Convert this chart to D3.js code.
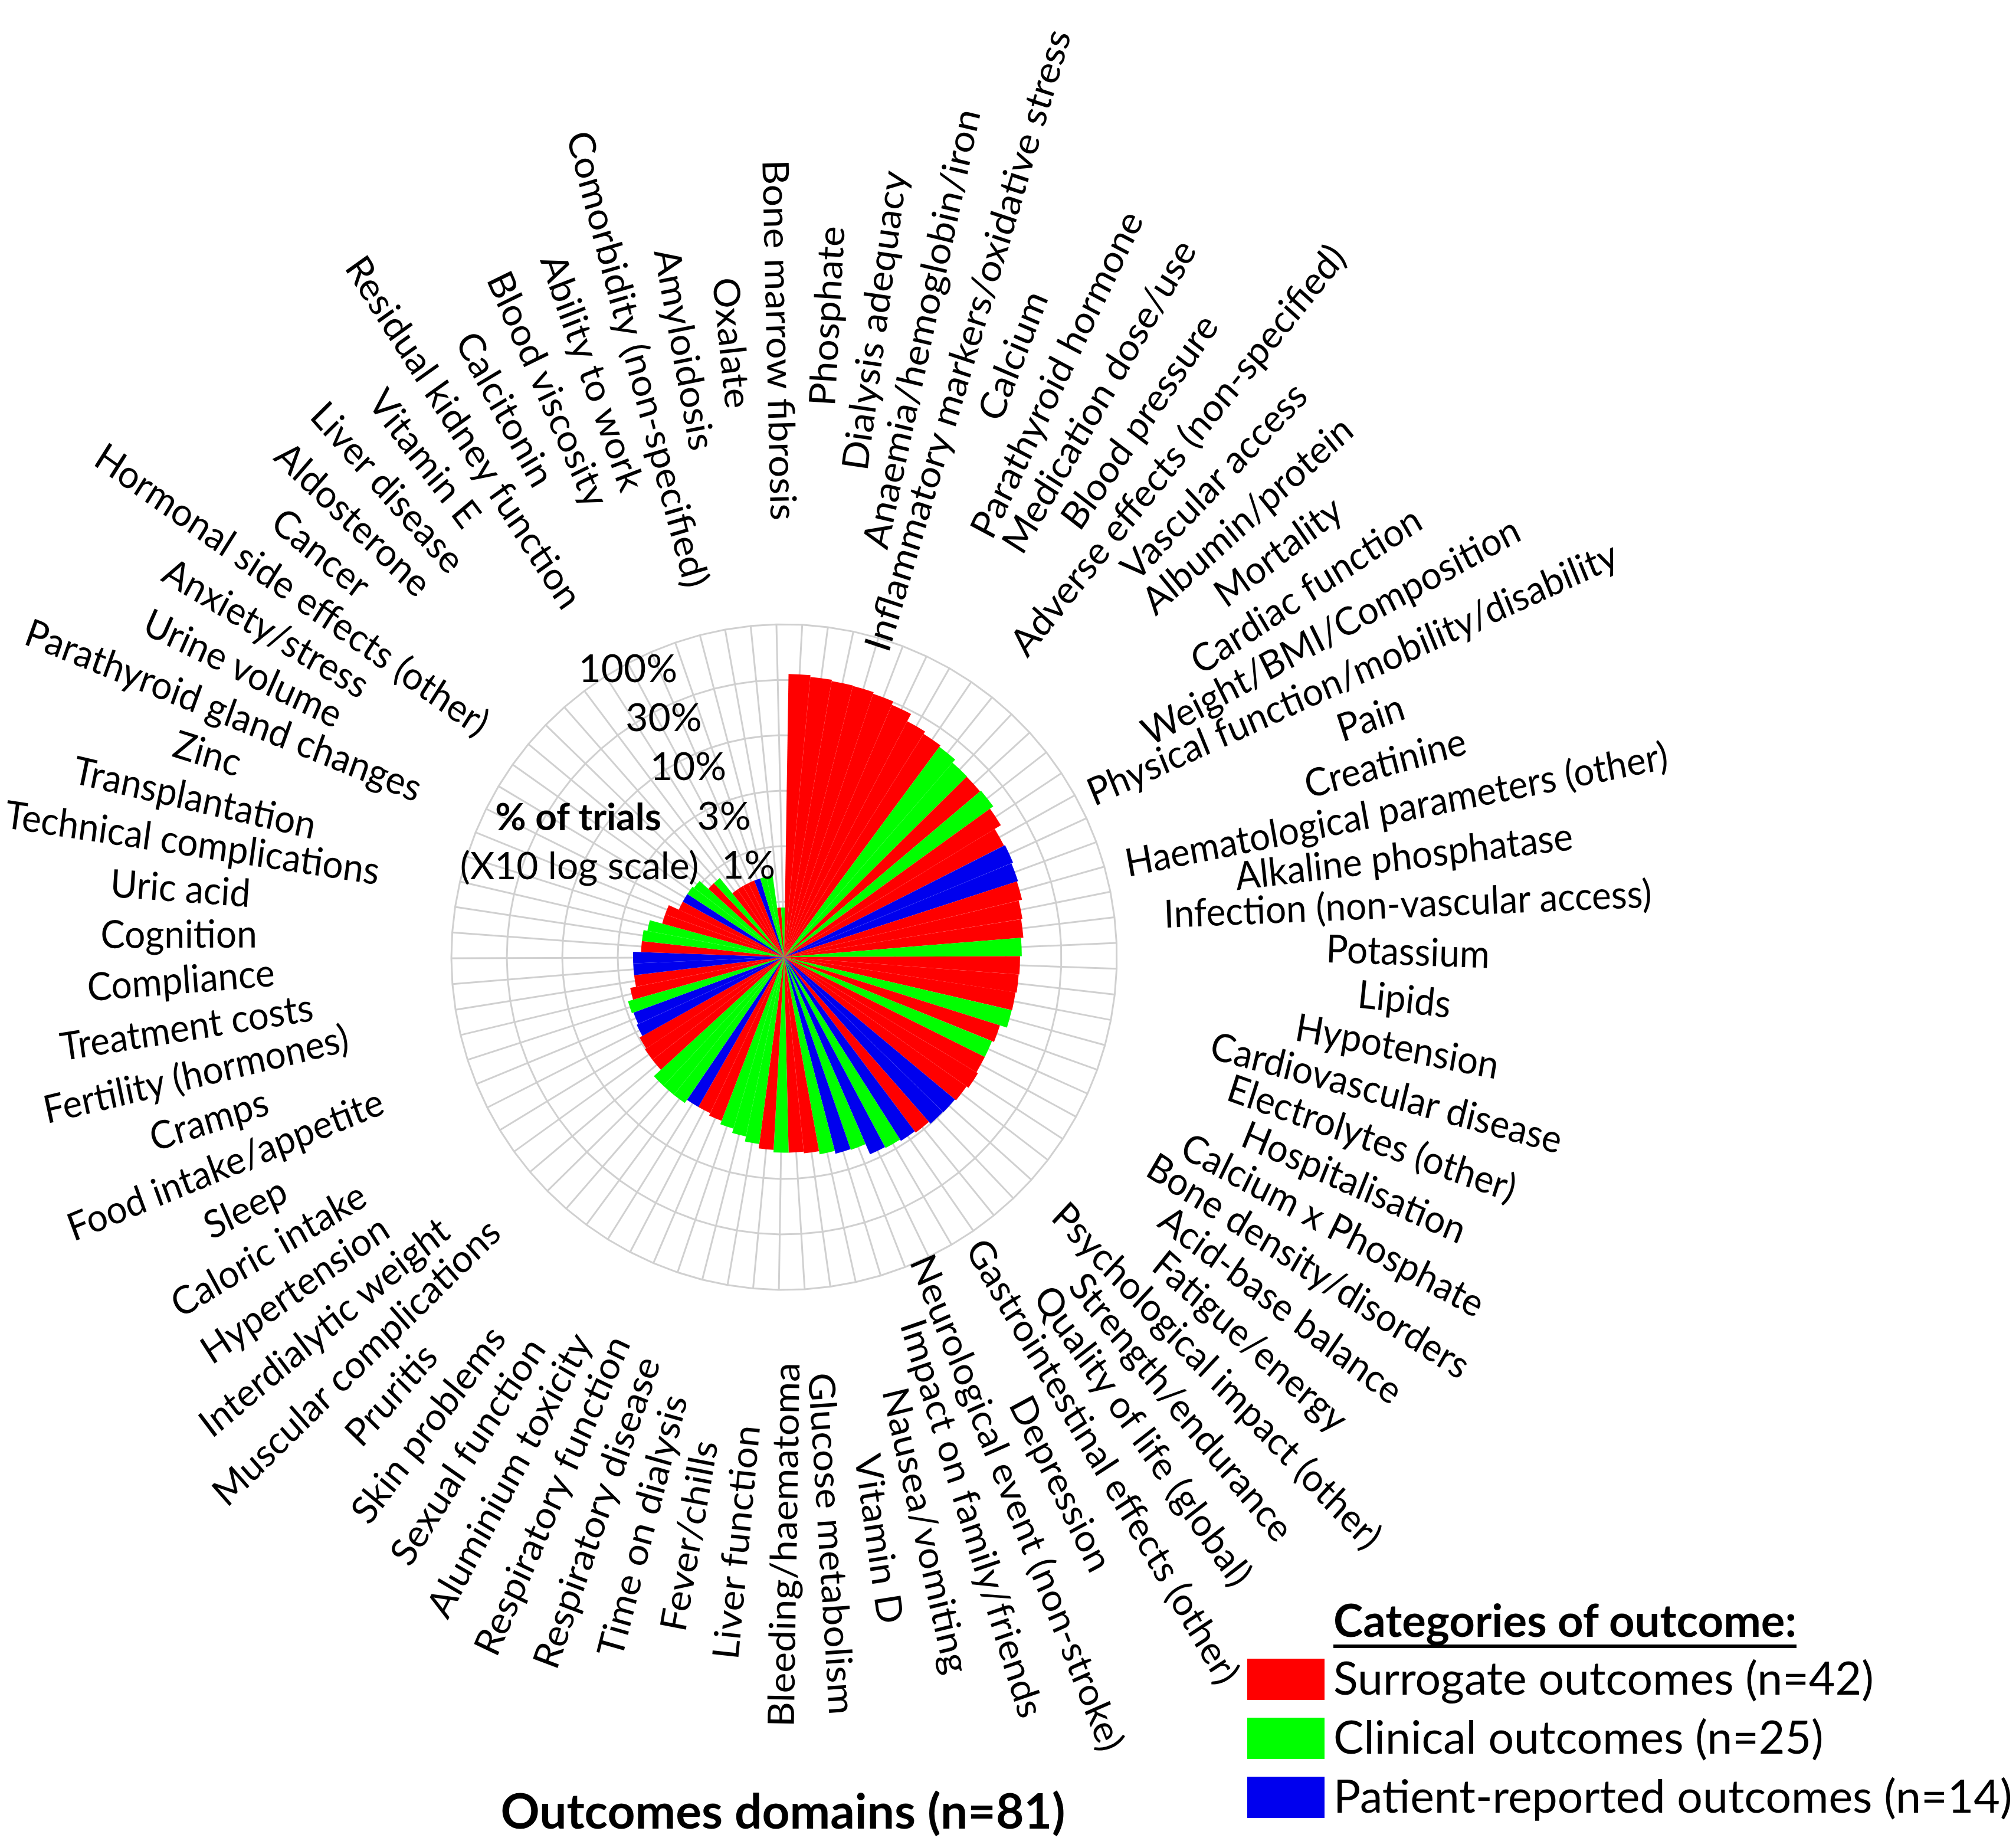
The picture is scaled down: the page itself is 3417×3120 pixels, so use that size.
<!DOCTYPE html>
<html><head><meta charset="utf-8">
<script src="https://cdn.jsdelivr.net/npm/d3@7"></script>
<style>
body{margin:0;background:#fff}
svg{display:block}
text{font-family:Lato,"Noto Sans",sans-serif;fill:#000}
</style>
</head><body>
<svg id="chart" width="3417" height="3120"></svg>
<script>
// ---------------- data ----------------
const categories = [
 "Phosphate","Dialysis adequacy","Anaemia/hemoglobin/iron","Inflammatory markers/oxidative stress",
 "Calcium","Parathyroid hormone","Medication dose/use","Blood pressure","Adverse effects (non-specified)",
 "Vascular access","Albumin/protein","Mortality","Cardiac function","Weight/BMI/Composition",
 "Physical function/mobility/disability","Pain","Creatinine","Haematological parameters (other)",
 "Alkaline phosphatase","Infection (non-vascular access)","Potassium","Lipids","Hypotension",
 "Cardiovascular disease","Electrolytes (other)","Hospitalisation","Calcium x Phosphate",
 "Bone density/disorders","Acid-base balance","Fatigue/energy","Psychological impact (other)",
 "Strength/endurance","Quality of life (global)","Gastrointestinal effects (other)","Depression",
 "Neurological event (non-stroke)","Impact on family/friends","Nausea/vomiting","Vitamin D",
 "Glucose metabolism","Bleeding/haematoma","Liver function","Fever/chills","Time on dialysis",
 "Respiratory disease","Respiratory function","Aluminium toxicity","Sexual function","Skin problems",
 "Pruritis","Muscular complications","Interdialytic weight","Hypertension","Caloric intake","Sleep",
 "Food intake/appetite","Cramps","Fertility (hormones)","Treatment costs","Compliance","Cognition",
 "Uric acid","Technical complications","Transplantation","Zinc","Parathyroid gland changes",
 "Urine volume","Anxiety/stress","Hormonal side effects (other)","Cancer","Aldosterone",
 "Liver disease","Vitamin E","Residual kidney function","Calcitonin","Blood viscosity",
 "Ability to work","Comorbidity (non-specified)","Amyloidosis","Oxalate","Bone marrow fibrosis"
];
// S = surrogate, C = clinical, P = patient-reported
const outcomeTypes = [
 "S","S","S","S","S","S","S","S","C","C","S","C","S","S","P","P","S","S","S","C",
 "S","S","S","C","S","C","S","S","S","P","P","S","P","C","P","C","P","C","S","S",
 "C","S","C","C","C","S","S","P","C","C","C","S","S","S","P","P","C","S","S","P",
 "P","S","C","C","S","S","S","P","C","C","S","C","S","S","S","S","P","C","C","S","C"
];
// % of trials reporting each outcome domain
const percentOfTrials = [
 35.7,34.4,33.5,33.2,32.0,29.7,25.0,23.6,22.7,20.8,
 20.6,21.1,19.4,16.7,17.1,16.5,16.1,15.0,14.6,13.9,
 13.4,13.2,12.9,12.8,11.0,10.5,10.5,10.9,10.4,10.1,
 10.0,9.5,9.2,8.9,8.7,6.9,6.8,6.4,6.0,5.8,
 5.8,5.5,5.0,4.5,4.1,3.8,3.6,3.6,3.9,3.9,
 3.9,3.2,3.2,3.1,2.9,2.8,2.9,2.6,2.3,2.3,
 2.3,1.95,1.95,1.8,1.38,1.38,1.1,1.1,1.1,1.06,
 0.83,0.83,0.55,0.55,0.55,0.55,0.55,0.55,0.55,0.28,0.28
];
const ringValues = [0.3162, 1, 3.162, 10, 31.62, 100];
const tickValues = [1, 3.162, 10, 31.62, 100];
const tickLabels = ["1%", "3%", "10%", "30%", "100%"];
const typeKeys = ["S", "C", "P"];
const typeLabels = ["Surrogate outcomes (n=42)", "Clinical outcomes (n=25)", "Patient-reported outcomes (n=14)"];
const typeColors = ["#ff0000", "#00ff00", "#0000ee"];

// ---------------- layout ----------------
const cx = 1329, cy = 1622, R = 564;
const offset = 0.9 * Math.PI / 180;
const svg = d3.select("#chart");
svg.append("rect").attr("width", 3417).attr("height", 3120).attr("fill", "#fff");

const angle = d3.scaleBand().domain(categories).range([offset, offset + 2 * Math.PI]).padding(0);
const radius = d3.scaleLog().domain([0.1, 100]).range([0, R]);
const color = d3.scaleOrdinal().domain(typeKeys).range(typeColors);
const mid = d => angle(d) + angle.bandwidth() / 2;

const data = categories.map((c, i) => ({name: c, type: outcomeTypes[i], value: percentOfTrials[i]}));

const g = svg.append("g").attr("transform", `translate(${cx},${cy})`);

// grid rings (polygons through spokes)
const ringLine = d3.lineRadial().angle(d => mid(d)).curve(d3.curveLinearClosed);
g.append("g").selectAll("path").data(ringValues).join("path")
  .attr("d", v => ringLine.radius(radius(v))(categories))
  .attr("fill", "none").attr("stroke", "#d0d0d0").attr("stroke-width", 3);

// spokes
g.append("g").selectAll("line").data(categories).join("line")
  .attr("x1", 0).attr("y1", 0)
  .attr("x2", d => R * Math.sin(mid(d)))
  .attr("y2", d => -R * Math.cos(mid(d)))
  .attr("stroke", "#d0d0d0").attr("stroke-width", 3);

// bars
const arc = d3.arc()
  .innerRadius(0)
  .outerRadius(d => radius(d.value))
  .startAngle(d => angle(d.name))
  .endAngle(d => angle(d.name) + angle.bandwidth());
g.append("g").selectAll("path").data(data).join("path")
  .attr("d", arc).attr("fill", d => color(d.type));

// radial tick labels
svg.append("g").selectAll("text").data(tickValues).join("text")
  .attr("x", v => cx + 68 - 0.441 * radius(v))
  .attr("y", v => cy + 34 - 0.887 * radius(v))
  .attr("text-anchor", "end")
  .attr("font-size", 66)
  .text((v, i) => tickLabels[i]);

svg.append("text").attr("x", 980).attr("y", 1407).attr("text-anchor", "middle")
  .attr("font-size", 64).attr("font-weight", "bold").text("% of trials");
svg.append("text").attr("x", 982).attr("y", 1490).attr("text-anchor", "middle")
  .attr("font-size", 64).text("(X10 log scale)");

// category labels (text slightly stretched vertically, as in the reference)
const lx = cx + 16, ly = cy - 46, RL = 1042, stretch = 1.06;
const labelPos = d => {
  const a = mid(d), deg = a * 180 / Math.PI;
  const rot = (deg < 180 ? deg - 90 : deg + 90) * Math.PI / 180;
  const rot2 = Math.atan2(Math.sin(rot) / stretch, Math.cos(rot)) * 180 / Math.PI;
  // labels in the upper-left sector sit a little lower in the reference
  const w = deg > 265 ? Math.sin((deg - 265) / 95 * Math.PI / 2) : 0;
  return {x: lx + RL * Math.sin(a), y: ly - RL * Math.cos(a) + 42 * w, rot2};
};
const tf = p => `translate(${p.x},${p.y}) scale(1,${stretch}) rotate(${p.rot2})`;
const labels = svg.append("g").selectAll("text").data(categories).join("text")
  .attr("transform", d => tf(labelPos(d)))
  .attr("text-anchor", "middle")
  .attr("dy", "0.35em")
  .attr("font-size", 62)
  .text(d => d);
// keep labels inside the picture
labels.each(function(d) {
  const b = this.getBoundingClientRect();
  const p = labelPos(d);
  let moved = false;
  if (b.left < 4) { p.x += 4 - b.left; moved = true; }
  if (b.top < 2) { p.y += 2 - b.top; moved = true; }
  if (moved) d3.select(this).attr("transform", tf(p));
});

// legend
const lg = svg.append("g");
const title = lg.append("text").attr("x", 2260).attr("y", 2774)
  .attr("font-size", 76).attr("font-weight", "bold").text("Categories of outcome:");
const tl = title.node().getComputedTextLength();
lg.append("line").attr("x1", 2260).attr("x2", 2260 + tl).attr("y1", 2790).attr("y2", 2790)
  .attr("stroke", "#000").attr("stroke-width", 6);
const items = lg.selectAll("g.item").data(typeKeys).join("g").attr("class", "item")
  .attr("transform", (d, i) => `translate(0,${2811 + i * 100})`);
items.append("rect").attr("x", 2114).attr("y", 0).attr("width", 131).attr("height", 70)
  .attr("fill", d => color(d));
items.append("text").attr("x", 2260).attr("y", 61).attr("font-size", 77)
  .text((d, i) => typeLabels[i]);

// bottom title
svg.append("text").attr("x", 1327).attr("y", 3099).attr("text-anchor", "middle")
  .attr("font-size", 82).attr("font-weight", "bold").text("Outcomes domains (n=81)");
</script>
</body></html>
